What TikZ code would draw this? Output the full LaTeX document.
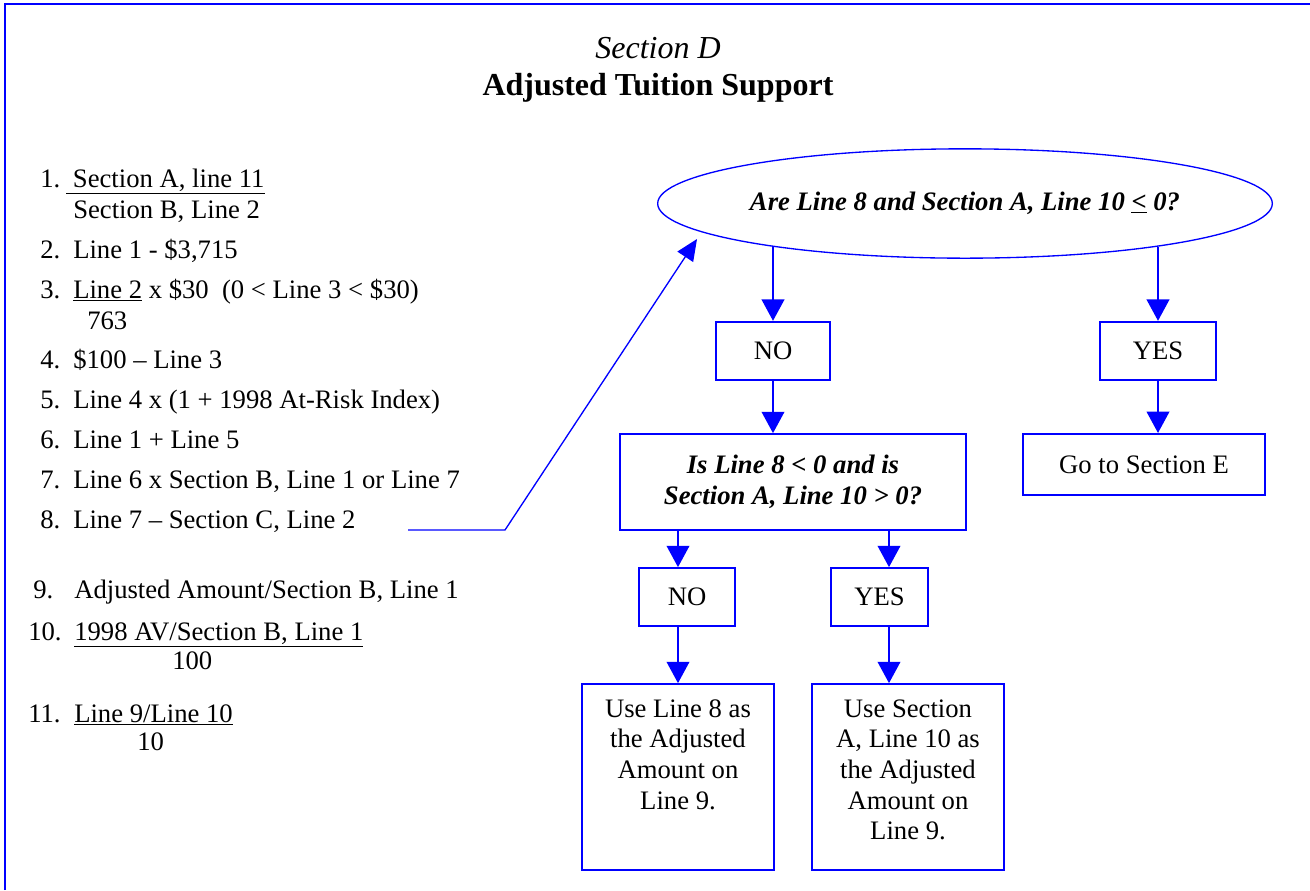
\documentclass[tikz,border=0pt]{standalone}
\usepackage{fontspec}
\setmainfont{Liberation Serif}
\usetikzlibrary{shapes.geometric,arrows.meta}

\tikzset{
  flowbox/.style={draw=blue, line width=1.3pt, inner sep=0pt, align=center},
  flowarrow/.style={draw=blue, line width=1.3pt, -{Triangle[length=16pt,width=17pt]}},
  pointer/.style={draw=blue, line width=1pt, -{Triangle[length=16pt,width=14pt]}},
  listtext/.style={anchor=base west, inner sep=0pt},
}

\begin{document}
\fontsize{20}{23}\selectfont
\begin{tikzpicture}[x=0.75pt,y=-0.75pt]
        \useasboundingbox (0,0) rectangle (1310,890);
        % frame
        \draw [blue, line width=1.5pt] (5,890) -- (5,4) -- (1310,4);
        % title
        \node [anchor=base, inner sep=0pt, font=\fontsize{24}{28}\selectfont\itshape] (ttl) at (658,58) {Section D};
        \node [anchor=base, inner sep=0pt, font=\fontsize{24}{28}\selectfont\bfseries] (ttlb) at (658,95) {Adjusted Tuition Support};
        % list of lines
        \node [listtext] (n1) at (40,187) {1.};
        \node [listtext] (l1) at (66,187) {\underline{\hspace{5pt}Section A, line 11}};
        \node [listtext] (l1b) at (73,218) {Section B, Line 2};
        \node [listtext] (n2) at (40,258) {2.};
        \node [listtext] (l2) at (73,258) {Line 1 - \$3,715};
        \node [listtext] (n3) at (40,298) {3.};
        \node [listtext] (l3) at (73,298) {\underline{Line 2} x \$30\ \ (0 < Line 3 < \$30)};
        \node [listtext] (l3b) at (87,329) {763};
        \node [listtext] (n4) at (40,368) {4.};
        \node [listtext] (l4) at (73,368) {\$100 -- Line 3};
        \node [listtext] (n5) at (40,408) {5.};
        \node [listtext] (l5) at (73,408) {Line 4 x (1 + 1998 At-Risk Index)};
        \node [listtext] (n6) at (40,448) {6.};
        \node [listtext] (l6) at (73,448) {Line 1 + Line 5};
        \node [listtext] (n7) at (40,488) {7.};
        \node [listtext] (l7) at (73,488) {Line 6 x Section B, Line 1 or Line 7};
        \node [listtext] (n8) at (40,528) {8.};
        \node [listtext] (l8) at (73,528) {Line 7 -- Section C, Line 2};
        \node [listtext] (n9) at (33,598) {9.};
        \node [listtext] (l9) at (74,598) {Adjusted Amount/Section B, Line 1};
        \node [listtext] (n10) at (28,640) {10.};
        \node [listtext] (l10) at (74,640) {\underline{1998 AV/Section B, Line 1}};
        \node [listtext] (l10b) at (172,669) {100};
        \node [listtext] (n11) at (28,722) {11.};
        \node [listtext] (l11) at (74,722) {\underline{Line 9/Line 10}};
        \node [listtext] (l11b) at (137,750) {10};
        % flow chart
        \node [flowbox, line width=1pt, ellipse, minimum width=461pt, minimum height=82pt, font=\bfseries\itshape] (q1) at (965,203.5) {Are Line 8 and Section A, Line 10 \underline{<} 0?};
        \node [flowbox, minimum width=86pt, minimum height=44pt] (no1) at (773,351) {NO};
        \node [flowbox, minimum width=87pt, minimum height=44pt] (yes1) at (1158,351) {YES};
        \node [flowbox, minimum width=259.5pt, minimum height=72pt, font=\bfseries\itshape] (q2) at (793,482) {Is Line 8 < 0 and is\\Section A, Line 10 > 0?};
        \node [flowbox, minimum width=181.5pt, minimum height=46pt] (goE) at (1144,464.5) {Go to Section E};
        \node [flowbox, minimum width=72pt, minimum height=43.5pt] (no2) at (687,597) {NO};
        \node [flowbox, minimum width=73pt, minimum height=43.5pt] (yes2) at (879.5,597) {YES};
        \node [flowbox] (use1) at (678,777) {\parbox[c][139.5pt][t]{144pt}{\centering\rule{0pt}{24.75pt}Use Line 8 as\\the Adjusted\\Amount on\\Line 9.}};
        \node [flowbox] (use2) at (908,777) {\parbox[c][139.5pt][t]{144pt}{\centering\rule{0pt}{24.75pt}Use Section\\A, Line 10 as\\the Adjusted\\Amount on\\Line 9.}};
        \coordinate (colA) at (678,0);
        \coordinate (colB) at (889,0);
        \draw [flowarrow] (no1.north |- q1.193) -- (no1.north);
        \draw [flowarrow] (yes1.north |- q1.347) -- (yes1.north);
        \draw [flowarrow] (no1.south) -- (no1.south |- q2.north);
        \draw [flowarrow] (yes1.south) -- (yes1.south |- goE.north);
        \draw [flowarrow] (colA |- q2.south) -- (colA |- no2.north);
        \draw [flowarrow] (colB |- q2.south) -- (colB |- yes2.north);
        \draw [flowarrow] (colA |- no2.south) -- (colA |- use1.north);
        \draw [flowarrow] (colB |- yes2.south) -- (colB |- use2.north);
        % pointer from line 8
        \coordinate (p0) at (408,530);
        \coordinate (p1) at (505,530);
        \coordinate (ptip) at (697,239);
        \draw [pointer] (p0) -- (p1) -- (ptip);
\end{tikzpicture}
\end{document}
